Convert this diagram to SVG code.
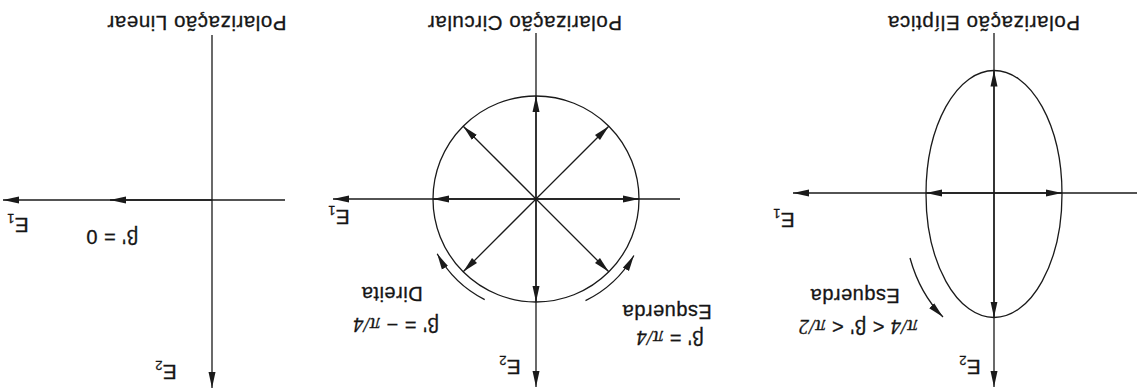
<svg xmlns="http://www.w3.org/2000/svg" width="1137" height="392" viewBox="0 0 1137 392">
<style>
.ax{stroke:#1a1a1a;stroke-width:1.3;fill:none}
.vec{stroke:#1a1a1a;stroke-width:1.3;fill:none;marker-end:url(#ah)}
.axa{stroke:#1a1a1a;stroke-width:1.3;fill:none;marker-end:url(#ah)}
.sh{stroke:#1a1a1a;stroke-width:1.3;fill:none}
text{font-family:"Liberation Sans",Arial,sans-serif;fill:#151515;stroke:#151515;stroke-width:0.3}
.t{font-size:20.5px}
.l{font-size:20px;letter-spacing:0.5px}
.e{font-size:21px}
.pi{font-family:"Liberation Serif","Times New Roman",serif;font-style:italic}
</style>
<defs>
<marker id="ah" markerUnits="userSpaceOnUse" markerWidth="18" markerHeight="10" refX="16" refY="4" orient="auto">
<path d="M0,0.5 L16,4 L0,7.5 z" fill="#1a1a1a"/>
</marker>
</defs>
<rect width="1137" height="392" fill="#ffffff"/>

<g id="linear">
<text class="t" x="197" y="16" text-anchor="middle" textLength="179" lengthAdjust="spacing" transform="rotate(180 197 16)">Polarização Linear</text>
<line class="ax" x1="285" y1="200" x2="212" y2="200"/>
<line class="axa" x1="212" y1="35" x2="212" y2="388"/>
<line class="axa" x1="212" y1="200" x2="3" y2="200"/>
<line class="vec" x1="212" y1="200" x2="110" y2="200"/>
<text class="l" x="112" y="230" text-anchor="middle" transform="rotate(180 112 230)">β' = 0</text>
<text class="e" x="18" y="218" text-anchor="middle" transform="rotate(180 18 218)">E<tspan font-size="13" dy="4">1</tspan></text>
<text class="e" x="166" y="365" text-anchor="middle" transform="rotate(180 166 365)">E<tspan font-size="13" dy="4">2</tspan></text>
</g>

<g id="circular">
<text class="t" x="525" y="16" text-anchor="middle" textLength="194" lengthAdjust="spacing" transform="rotate(180 525 16)">Polarização Circular</text>
<line class="axa" x1="536" y1="33" x2="536" y2="387"/>
<line class="axa" x1="680" y1="199" x2="333" y2="199"/>
<circle class="sh" cx="536" cy="199" r="103"/>
<line class="vec" x1="536" y1="199" x2="536" y2="96"/>
<line class="vec" x1="536" y1="199" x2="536" y2="302"/>
<line class="vec" x1="536" y1="199" x2="433" y2="199"/>
<line class="vec" x1="536" y1="199" x2="639" y2="199"/>
<line class="vec" x1="536" y1="199" x2="608.8" y2="126.2"/>
<line class="vec" x1="536" y1="199" x2="463.2" y2="126.2"/>
<line class="vec" x1="536" y1="199" x2="463.2" y2="271.8"/>
<line class="vec" x1="536" y1="199" x2="608.8" y2="271.8"/>
<text class="e" x="339" y="210" text-anchor="middle" transform="rotate(180 339 210)">E<tspan font-size="13" dy="4">1</tspan></text>
<text class="e" x="510" y="360" text-anchor="middle" transform="rotate(180 510 360)">E<tspan font-size="13" dy="4">2</tspan></text>
<text class="l" x="392" y="287" text-anchor="middle" transform="rotate(180 392 287)">Direita</text>
<text class="l" x="396" y="318" text-anchor="middle" transform="rotate(180 396 318)">β' = − <tspan class="pi">π/4</tspan></text>
<text class="l" x="667" y="305" text-anchor="middle" transform="rotate(180 667 305)">Esquerda</text>
<text class="l" x="670" y="331" text-anchor="middle" transform="rotate(180 670 331)">β' = <tspan class="pi">π/4</tspan></text>
</g>

<g id="eliptica">
<text class="t" x="984" y="16" text-anchor="middle" textLength="192" lengthAdjust="spacing" transform="rotate(180 984 16)">Polarização Elíptica</text>
<line class="axa" x1="994" y1="33" x2="994" y2="387"/>
<line class="axa" x1="1137" y1="193" x2="793" y2="193"/>
<ellipse class="sh" cx="994" cy="194" rx="68" ry="123.5"/>
<line class="vec" x1="994" y1="194" x2="994" y2="70.5"/>
<line class="vec" x1="994" y1="194" x2="994" y2="317.5"/>
<line class="vec" x1="994" y1="193" x2="926" y2="193"/>
<line class="vec" x1="994" y1="193" x2="1062" y2="193"/>
<text class="e" x="784" y="213" text-anchor="middle" transform="rotate(180 784 213)">E<tspan font-size="13" dy="4">1</tspan></text>
<text class="e" x="970" y="360" text-anchor="middle" transform="rotate(180 970 360)">E<tspan font-size="13" dy="4">2</tspan></text>
<text class="l" x="855" y="289" text-anchor="middle" transform="rotate(180 855 289)">Esquerda</text>
<text class="l" x="858" y="320" text-anchor="middle" transform="rotate(180 858 320)"><tspan class="pi">π/4</tspan> &lt; β' &lt; <tspan class="pi">π/2</tspan></text>
</g>

<g id="connectors">
<path class="vec" d="M484.7,299.7 A113,113 0 0 1 437.2,253.8"/>
<path class="vec" d="M585.5,300.6 A113,113 0 0 0 633.9,255.5"/>
<path class="vec" d="M910,258 Q920,294 943,317"/>
</g>
</svg>
